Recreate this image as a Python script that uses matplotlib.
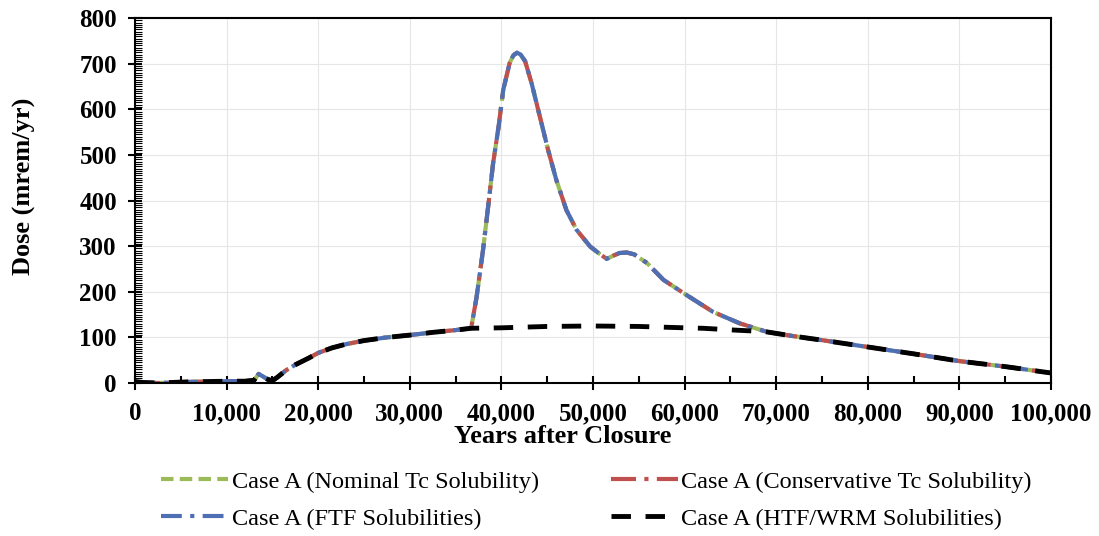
import numpy as np
import matplotlib.pyplot as plt
from matplotlib.ticker import MultipleLocator, FuncFormatter

# Years after closure and dose (mrem/yr)
years = [0, 1000, 2500, 5000, 7500, 10000, 12000, 13000, 13500, 14000, 14500, 15000,
         15500, 16500, 17500, 19000, 20000, 21500, 23000, 25000, 27500, 30000, 32500,
         35000, 36700, 37300, 38000, 38600, 39100, 39700, 40200, 40900, 41300, 41700,
         42100, 42600, 43300, 44200, 45100, 46000, 47100, 48200, 49700, 50600, 51500,
         52200, 52900, 53700, 54500, 55900, 57700, 60200, 63100, 66000, 69000, 71800,
         75000, 80000, 85000, 90000, 95000, 100000]
dose_case_a = [3, 1, 0, 2, 3, 4, 4, 6, 20, 14, 8, 5,
               12, 28, 40, 55, 66, 77, 85, 93, 100, 105, 111,
               116, 120, 189, 292, 394, 482, 562, 642, 701, 718, 724,
               720, 705, 657, 584, 511, 445, 379, 336, 299, 285, 272,
               279, 285, 286, 282, 263, 226, 193, 156, 131, 112, 103,
               94, 79, 64, 48, 36, 22]

# Same case for the three Tc variants, HTF/WRM differs over the peak
dose_nominal = dose_case_a
dose_conservative = dose_case_a
dose_ftf = dose_case_a

years_htf = [0, 1000, 2500, 5000, 7500, 10000, 12000, 13000, 13500, 14000, 14500, 15000,
             15500, 16500, 17500, 19000, 20000, 21500, 23000, 25000, 27500, 30000, 32500,
             35000, 36700, 40000, 45000, 50000, 55000, 60000, 62000, 65500, 67500, 69000,
             71800, 75000, 80000, 85000, 90000, 95000, 100000]
dose_htf = [3, 1, 0, 2, 3, 4, 4, 6, 20, 14, 8, 5,
            12, 28, 40, 55, 66, 77, 85, 93, 100, 105, 111,
            116, 120, 121, 124, 125, 124, 121, 120, 116, 114, 112,
            103, 94, 79, 64, 48, 36, 22]

labels = ['Case A (Nominal Tc Solubility)', 'Case A (FTF Solubilities)',
          'Case A (Conservative Tc Solubility)', 'Case A (HTF/WRM Solubilities)']

plt.rcParams['font.family'] = ['Liberation Serif', 'DejaVu Serif']

fig = plt.figure(figsize=(10.99, 5.36), dpi=100)
ax = fig.add_axes([0.1228, 0.2854, 0.8335, 0.6810])

l_nom, = ax.plot(years, dose_nominal, color='#9BBB59', lw=3, ls=(0, (3, 1.5)))
l_con, = ax.plot(years, dose_conservative, color='#C0504D', lw=3, ls=(0, (6, 2, 1, 2)))
l_ftf, = ax.plot(years, dose_ftf, color='#4F6FB5', lw=3, ls=(0, (5, 2, 1, 2)))
l_htf, = ax.plot(years_htf, dose_htf, color='black', lw=3.5, ls=(0, (4, 3)))

ax.set_xlim(0, 100000)
ax.set_ylim(0, 800)
ax.xaxis.set_major_locator(MultipleLocator(10000))
ax.xaxis.set_minor_locator(MultipleLocator(5000))
ax.yaxis.set_major_locator(MultipleLocator(100))
ax.yaxis.set_minor_locator(MultipleLocator(5))
ax.xaxis.set_major_formatter(FuncFormatter(lambda v, p: f'{int(v):,}'))

ax.grid(True, which='major', color='#e6e6e6', lw=0.8)
ax.set_axisbelow(True)
ax.tick_params(axis='x', which='major', direction='inout', length=10, width=1.5, pad=9)
ax.tick_params(axis='x', which='minor', direction='in', length=5, width=1.5)
ax.tick_params(axis='y', which='major', direction='inout', length=10, width=1.5, pad=8)
ax.tick_params(axis='y', which='minor', direction='in', length=5, width=0.8)
ax.tick_params(labelsize=18)
for lab in ax.get_xticklabels() + ax.get_yticklabels():
    lab.set_fontweight('bold')
for s in ax.spines.values():
    s.set_linewidth(1.5)

ax.set_xlabel('Years after Closure', fontsize=19, fontweight='bold')
ax.xaxis.set_label_coords(0.467, -0.115)
ax.set_ylabel('Dose (mrem/yr)', fontsize=19, fontweight='bold')
ax.yaxis.set_label_coords(-0.108, 0.54)

fig.legend([l_nom, l_ftf, l_con, l_htf], labels, ncol=2, frameon=False,
           loc='upper left', bbox_to_anchor=(0.138, 0.14), fontsize=17.5,
           handlelength=2.75, handletextpad=0.15, columnspacing=2.95,
           labelspacing=0.62, borderaxespad=0)

fig.savefig('out.png', dpi=100)
